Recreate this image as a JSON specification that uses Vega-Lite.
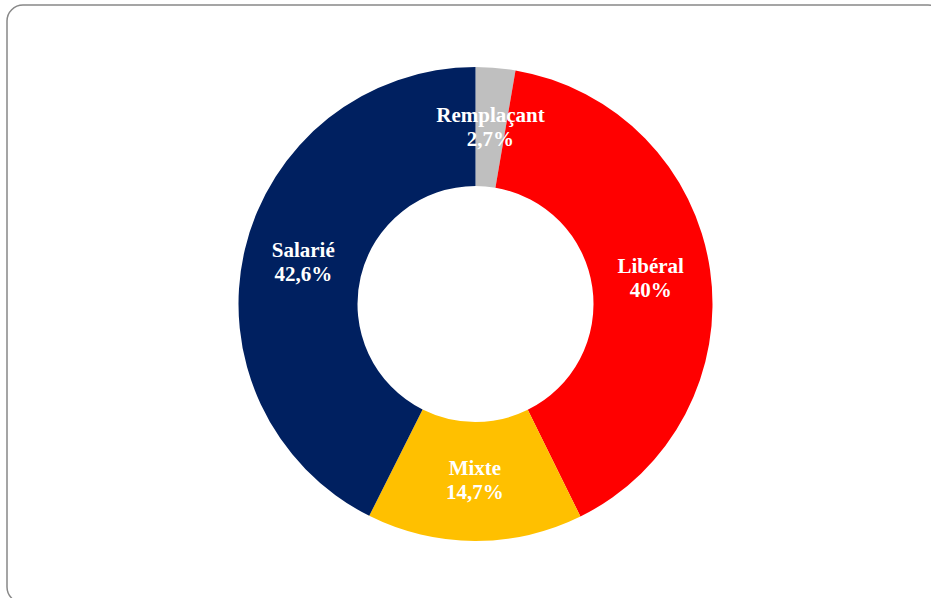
{
  "$schema": "https://vega.github.io/schema/vega-lite/v6.json",
  "width": 937,
  "height": 598,
  "autosize": "none",
  "padding": {"left": 7, "top": 5, "right": 0, "bottom": 0},
  "background": "white",
  "view": {"stroke": "#888888", "strokeWidth": 1.5, "cornerRadius": 16, "fill": "white"},
  "config": {
    "view": {"stroke": "#888888", "strokeWidth": 1.5, "cornerRadius": 16, "fill": "white"}
  },
  "data": {
    "values": [
      {"category": "Remplaçant", "value": 2.7, "label": "Remplaçant\n2,7%", "order": 1},
      {"category": "Libéral", "value": 40, "label": "Libéral\n40%", "order": 2},
      {"category": "Mixte", "value": 14.7, "label": "Mixte\n14,7%", "order": 3},
      {"category": "Salarié", "value": 42.6, "label": "Salarié\n42,6%", "order": 4}
    ]
  },
  "encoding": {
    "theta": {"field": "value", "type": "quantitative", "stack": true},
    "order": {"field": "order", "type": "quantitative"}
  },
  "layer": [
    {
      "mark": {"type": "arc", "outerRadius": 237, "innerRadius": 118},
      "encoding": {
        "color": {
          "field": "category",
          "type": "nominal",
          "scale": {
            "domain": ["Remplaçant", "Libéral", "Mixte", "Salarié"],
            "range": ["#BFBFBF", "#FF0000", "#FFC000", "#002060"]
          },
          "legend": null
        }
      }
    },
    {
      "mark": {
        "type": "text",
        "radius": 177,
        "color": "white",
        "font": "Liberation Serif",
        "fontWeight": "bold",
        "fontSize": 21,
        "lineHeight": 24,
        "lineBreak": "\n",
        "align": "center",
        "baseline": "middle",
        "dy": -12
      },
      "encoding": {
        "text": {"field": "label", "type": "nominal"}
      }
    }
  ]
}
